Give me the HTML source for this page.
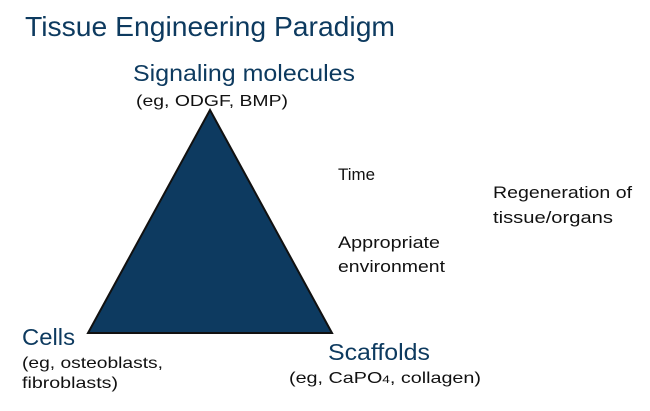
<!DOCTYPE html>
<html><head><meta charset="utf-8"><style>
html,body{margin:0;padding:0;background:#fff;width:650px;height:411px;overflow:hidden}
svg{display:block}
text{font-family:"Liberation Sans",sans-serif}
</style></head><body>
<svg width="650" height="411" viewBox="0 0 650 411">
<text x="25" y="36" font-size="28" fill="#0d3a5f" textLength="370" lengthAdjust="spacingAndGlyphs">Tissue Engineering Paradigm</text>
<text x="133" y="81" font-size="23" fill="#0d3a5f" textLength="222" lengthAdjust="spacingAndGlyphs">Signaling molecules</text>
<text x="136" y="106" font-size="16" fill="#111" textLength="152" lengthAdjust="spacingAndGlyphs">(eg, ODGF, BMP)</text>
<polygon points="210,110 88,333 332,333" fill="#0d3a60" stroke="#111" stroke-width="2" stroke-linejoin="miter"/>
<text x="338" y="180" font-size="17" fill="#111" textLength="37" lengthAdjust="spacingAndGlyphs">Time</text>
<text x="493" y="198" font-size="17" fill="#111" textLength="139" lengthAdjust="spacingAndGlyphs">Regeneration of</text>
<text x="493" y="223" font-size="17" fill="#111" textLength="120" lengthAdjust="spacingAndGlyphs">tissue/organs</text>
<text x="338" y="248" font-size="17" fill="#111" textLength="102" lengthAdjust="spacingAndGlyphs">Appropriate</text>
<text x="338" y="272" font-size="17" fill="#111" textLength="107" lengthAdjust="spacingAndGlyphs">environment</text>
<text x="22" y="345" font-size="23" fill="#0d3a5f" textLength="53" lengthAdjust="spacingAndGlyphs">Cells</text>
<text x="22" y="368" font-size="16" fill="#111" textLength="141" lengthAdjust="spacingAndGlyphs">(eg, osteoblasts,</text>
<text x="22" y="388" font-size="16" fill="#111" textLength="96" lengthAdjust="spacingAndGlyphs">fibroblasts)</text>
<text x="328" y="360" font-size="23" fill="#0d3a5f" textLength="102" lengthAdjust="spacingAndGlyphs">Scaffolds</text>
<text x="289" y="383" font-size="16" fill="#111" textLength="192" lengthAdjust="spacingAndGlyphs">(eg, CaPO<tspan font-size="11">4</tspan>, collagen)</text>
</svg>
</body></html>
